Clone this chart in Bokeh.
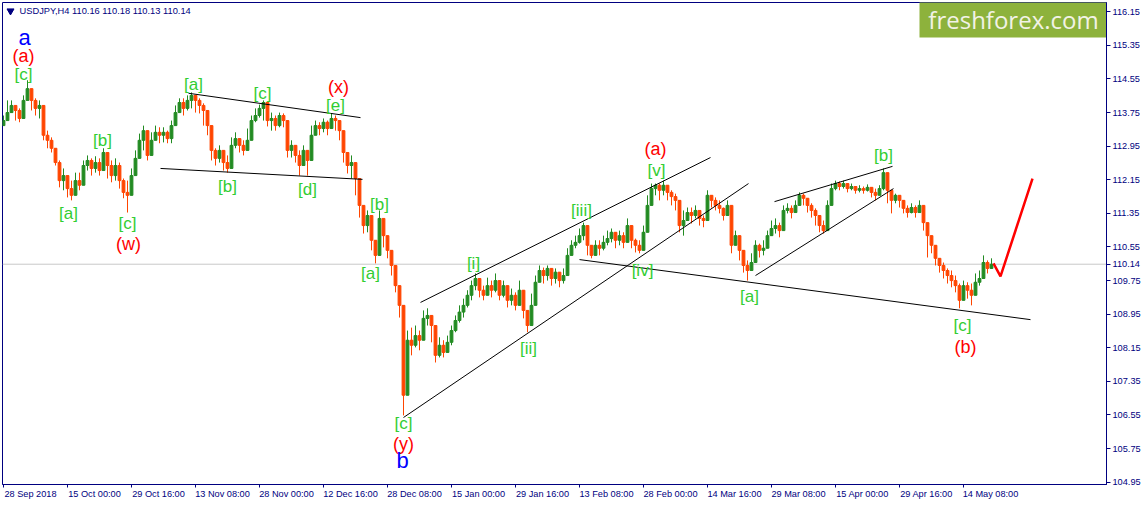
from bokeh.plotting import figure
from bokeh.models import Range1d, FixedTicker, PrintfTickFormatter, Span, ColumnDataSource, LinearAxis
from bokeh.embed import file_html
from bokeh.resources import INLINE
from bokeh.core.properties import value

# ---------------- data ----------------
symbol = "USDJPY,H4"
last_ohlc = [110.16, 110.18, 110.13, 110.14]
current_price = 110.14
first_open = 113.44

closes = [
    113.56, 113.75, 113.92, 113.80, 113.61, 114.04, 114.32, 114.04, 113.85, 113.92, 113.21, 113.09, 112.90, 112.56, 112.13, 112.25,
    111.94, 111.78, 112.13, 112.02, 112.49, 112.61, 112.42, 112.56, 112.37, 112.80, 112.49, 112.25, 112.49, 112.13, 111.85, 111.78,
    112.25, 112.66, 113.09, 113.32, 112.73, 113.09, 113.28, 113.21, 113.28, 113.13, 113.44, 113.75, 113.99, 113.85, 114.04, 114.16,
    114.04, 113.92, 113.80, 113.44, 112.85, 112.66, 112.85, 112.56, 112.42, 112.97, 113.13, 112.97, 112.85, 113.09, 113.56, 113.68,
    113.85, 113.99, 113.56, 113.61, 113.44, 113.68, 113.56, 112.85, 112.97, 112.73, 112.49, 112.85, 112.61, 113.21, 113.44, 113.37,
    113.52, 113.37, 113.61, 113.56, 113.32, 112.80, 112.49, 112.56, 112.18, 111.54, 111.06, 111.30, 110.71, 110.35, 111.23, 110.82,
    110.47, 110.11, 109.63, 109.16, 107.02, 108.33, 108.21, 108.44, 108.33, 108.85, 108.92, 108.68, 107.97, 108.21, 108.04, 108.28,
    108.56, 108.80, 109.00, 109.16, 109.40, 109.63, 109.80, 109.52, 109.40, 109.63, 109.52, 109.75, 109.40, 109.63, 109.28, 109.40,
    109.16, 109.52, 109.04, 108.68, 109.16, 109.71, 109.99, 109.87, 110.04, 109.80, 109.95, 109.75, 109.87, 110.35, 110.59, 110.66,
    110.82, 111.06, 110.59, 110.35, 110.59, 110.52, 110.66, 110.75, 110.90, 110.71, 110.82, 110.66, 111.06, 110.71, 110.59, 110.47,
    110.90, 111.54, 111.94, 112.02, 111.90, 112.02, 111.85, 111.75, 111.66, 111.06, 111.18, 111.37, 111.30, 111.42, 111.23, 111.18,
    111.78, 111.66, 111.54, 111.47, 111.30, 111.54, 110.59, 110.82, 110.47, 110.11, 109.99, 110.18, 110.59, 110.47, 110.52, 110.82,
    110.99, 111.06, 110.94, 111.42, 111.47, 111.37, 111.54, 111.78, 111.71, 111.54, 111.42, 111.30, 111.06, 110.94, 111.54, 111.94,
    112.06, 111.99, 112.06, 111.94, 111.99, 111.90, 111.94, 111.90, 111.97, 111.85, 111.78, 111.94, 112.32, 111.90, 111.66, 111.78,
    111.66, 111.47, 111.37, 111.49, 111.37, 111.54, 111.13, 110.82, 110.59, 110.28, 110.11, 109.99, 109.87, 109.75, 109.63, 109.28,
    109.63, 109.52, 109.40, 109.71, 109.80, 110.18, 110.04, 110.14,
]

highs_read = [
    113.68, 114.04, 114.04, 113.92, 113.85, 114.16, 114.52, 114.21, 114.09, 114.04, 113.61, 113.32, 113.16, 112.90, 112.61, 112.42,
    112.25, 112.13, 112.32, 112.32, 112.61, 112.73, 112.66, 112.71, 112.66, 112.90, 112.73, 112.61, 112.66, 112.56, 112.18, 112.13,
    112.42, 112.85, 113.25, 113.44, 113.13, 113.28, 113.44, 113.40, 113.40, 113.32, 113.56, 113.92, 114.09, 114.09, 114.16, 114.23,
    114.16, 114.09, 113.97, 113.73, 113.09, 112.90, 112.97, 112.85, 112.73, 113.16, 113.28, 113.13, 113.09, 113.37, 113.68, 113.85,
    113.94, 114.04, 113.73, 113.75, 113.68, 113.75, 113.73, 113.13, 113.09, 112.97, 112.85, 112.97, 112.85, 113.44, 113.56, 113.52,
    113.61, 113.56, 113.73, 113.68, 113.56, 112.97, 112.73, 112.73, 112.37, 111.78, 111.42, 111.42, 110.94, 110.71, 111.42, 111.18,
    110.71, 110.40, 109.99, 109.44, 109.16, 108.56, 108.63, 108.68, 108.56, 109.04, 109.09, 108.92, 108.40, 108.40, 108.33, 108.44,
    108.68, 108.92, 109.16, 109.32, 109.52, 109.75, 109.92, 109.75, 109.63, 109.82, 109.75, 109.92, 109.71, 109.75, 109.52, 109.56,
    109.47, 109.75, 109.40, 109.04, 109.44, 109.87, 110.11, 110.06, 110.11, 109.99, 110.04, 109.92, 110.04, 110.52, 110.71, 110.82,
    110.99, 111.13, 110.82, 110.59, 110.71, 110.71, 110.82, 110.94, 110.99, 110.90, 110.94, 110.90, 111.23, 110.90, 110.75, 110.71,
    111.06, 111.78, 112.06, 112.06, 112.06, 112.13, 112.02, 111.90, 111.82, 111.42, 111.42, 111.49, 111.49, 111.54, 111.42, 111.30,
    111.90, 111.78, 111.73, 111.66, 111.49, 111.66, 110.94, 110.94, 110.71, 110.35, 110.23, 110.40, 110.71, 110.63, 110.71, 110.94,
    111.18, 111.23, 111.13, 111.54, 111.59, 111.54, 111.66, 111.85, 111.82, 111.71, 111.59, 111.47, 111.25, 111.18, 111.66, 112.06,
    112.13, 112.11, 112.13, 112.06, 112.06, 111.99, 112.02, 111.99, 112.04, 111.94, 111.94, 112.02, 112.42, 112.06, 111.78, 111.82,
    111.78, 111.59, 111.54, 111.59, 111.54, 111.66, 111.37, 111.06, 110.75, 110.47, 110.28, 110.18, 110.04, 109.99, 109.87, 109.68,
    109.75, 109.71, 109.68, 109.92, 109.99, 110.35, 110.23, 110.28,
]

lows_read = [
    113.44, 113.61, 113.75, 113.56, 113.52, 113.75, 114.04, 113.80, 113.68, 113.61, 113.09, 112.90, 112.80, 112.49, 111.97, 111.90,
    111.73, 111.66, 111.85, 111.90, 112.18, 112.37, 112.25, 112.32, 112.25, 112.42, 112.18, 112.09, 112.13, 111.94, 111.71, 111.37,
    111.85, 112.32, 112.66, 112.85, 112.61, 112.85, 113.09, 113.02, 113.04, 113.02, 113.02, 113.52, 113.75, 113.68, 113.80, 113.85,
    113.75, 113.73, 113.44, 113.21, 112.61, 112.49, 112.56, 112.37, 112.32, 112.66, 112.90, 112.80, 112.73, 112.85, 113.28, 113.52,
    113.63, 113.56, 113.42, 113.32, 113.32, 113.40, 113.40, 112.68, 112.68, 112.56, 112.25, 112.56, 112.25, 112.97, 113.25, 113.21,
    113.28, 113.21, 113.40, 113.32, 113.09, 112.56, 112.30, 112.18, 111.78, 111.25, 110.87, 110.90, 110.47, 110.16, 110.82, 110.54,
    110.28, 109.87, 109.47, 108.87, 106.54, 107.09, 107.97, 108.16, 108.09, 108.52, 108.68, 108.28, 107.80, 107.92, 107.92, 108.04,
    108.21, 108.52, 108.75, 108.87, 109.11, 109.28, 109.52, 109.35, 109.28, 109.44, 109.35, 109.47, 109.28, 109.35, 109.11, 109.16,
    109.04, 109.21, 108.85, 108.52, 108.92, 109.47, 109.75, 109.68, 109.75, 109.63, 109.68, 109.59, 109.68, 110.11, 110.35, 110.52,
    110.63, 110.71, 110.35, 110.28, 110.42, 110.35, 110.47, 110.59, 110.66, 110.52, 110.59, 110.52, 110.82, 110.52, 110.42, 110.40,
    110.66, 111.30, 111.66, 111.78, 111.66, 111.78, 111.66, 111.54, 111.42, 110.90, 110.82, 111.18, 111.11, 111.23, 111.06, 111.02,
    111.54, 111.49, 111.42, 111.35, 111.18, 111.30, 110.40, 110.63, 110.23, 109.94, 109.75, 109.99, 110.40, 110.30, 110.35, 110.54,
    110.82, 110.87, 110.78, 111.30, 111.35, 111.23, 111.37, 111.59, 111.54, 111.37, 111.25, 111.06, 110.90, 110.87, 111.30, 111.73,
    111.90, 111.90, 111.94, 111.85, 111.90, 111.82, 111.85, 111.82, 111.87, 111.73, 111.66, 111.78, 111.90, 111.59, 111.35, 111.59,
    111.49, 111.35, 111.25, 111.35, 111.25, 111.37, 110.94, 110.30, 110.40, 110.11, 109.94, 109.80, 109.68, 109.59, 109.47, 109.09,
    109.40, 109.32, 109.16, 109.52, 109.63, 109.94, 109.92, 110.04,
]

date_labels = ["28 Sep 2018", "15 Oct 00:00", "29 Oct 16:00", "13 Nov 08:00", "28 Nov 00:00", "12 Dec 16:00",
               "28 Dec 08:00", "15 Jan 00:00", "29 Jan 16:00", "13 Feb 08:00", "28 Feb 00:00", "14 Mar 16:00",
               "29 Mar 08:00", "15 Apr 00:00", "29 Apr 16:00", "14 May 08:00"]
date_bars = [0, 16, 32, 48, 64, 80, 96, 112, 128, 144, 160, 176, 192, 208, 224, 240]
price_ticks = [104.95, 105.75, 106.55, 107.35, 108.15, 108.95, 109.75, 110.55, 111.35, 112.15,
               112.95, 113.75, 114.55, 115.35, 116.15]

# Elliott wave labels
green_text = ["[c]", "[a]", "[c]", "[e]", "[b]", "[a]", "[c]", "[b]", "[d]", "[b]", "[a]", "[c]",
              "[i]", "[ii]", "[iii]", "[iv]", "[v]", "[a]", "[b]", "[c]"]
green_bar = [5, 47.5, 64.75, 83, 24.75, 16.25, 31, 56, 76, 94, 91.75, 100,
             117.5, 131.25, 144.5, 159.75, 163.25, 186.5, 220, 239.75]
green_price = [114.66, 114.43, 114.20, 113.92, 113.09, 111.35, 111.11, 111.98, 111.93, 111.57, 109.91, 106.35,
               110.15, 108.13, 111.42, 109.99, 112.37, 109.36, 112.73, 108.68]
red_text = ["(a)", "(x)", "(w)", "(y)", "(a)", "(b)"]
red_bar = [5, 83.75, 31.25, 100, 163, 240.5]
red_price = [115.09, 114.36, 110.61, 105.87, 112.88, 108.18]
blue_text = ["a", "b"]
blue_bar = [5.25, 99.75]
blue_price = [115.54, 105.47]

# trend lines (bar, price) -> (bar, price)
line_bar0 = [46.25, 39.25, 104.25, 100, 144, 192.75, 188]
line_price0 = [114.21, 112.42, 109.23, 106.49, 110.25, 111.63, 109.87]
line_bar1 = [89.25, 89.75, 176.75, 186.25, 256.75, 222.25, 222.5]
line_price1 = [113.63, 112.16, 112.68, 112.06, 108.82, 112.47, 111.94]
forecast_bar = [247.5, 249.25, 257.25]
forecast_price = [110.16, 109.85, 112.18]

# ---------------- build ----------------
NAVY = "#000080"
UP = "#228B22"
DOWN = "#FF4500"
GREEN_LBL = "#32CD32"
AXIS_FONT = "Liberation Sans"
AXIS_SIZE = "9.2px"

n = len(closes)
bars = list(range(n))
opens = [first_open] + closes[:-1]
tops = [max(o, c) for o, c in zip(opens, closes)]
bottoms = [min(o, c) for o, c in zip(opens, closes)]
highs = [max(h, t) for h, t in zip(highs_read, tops)]
lows = [min(l, b) for l, b in zip(lows_read, bottoms)]
colors = [UP if c >= o else DOWN for o, c in zip(opens, closes)]
src = ColumnDataSource(dict(x=bars, top=tops, bottom=bottoms, high=highs, low=lows, color=colors))

p = figure(width=1145, height=503, x_range=Range1d(-0.25, 275.75), y_range=Range1d(104.895, 116.371),
           output_backend="svg", toolbar_location=None, y_axis_location="right",
           min_border_left=0, min_border_top=0, min_border_right=41, min_border_bottom=21,
           background_fill_color="white", border_fill_color="white",
           outline_line_color=NAVY, outline_line_width=1)
p.margin = (2, 0, 0, 2)
p.xgrid.visible = False
p.ygrid.visible = False

p.add_layout(Span(location=current_price, dimension="width", line_color="#c8c8c8",
                  line_width=1, level="underlay"))

p.segment(x0="x", y0="high", x1="x", y1="low", line_color="color", line_width=1, source=src)
p.vbar(x="x", width=0.7, top="top", bottom="bottom", fill_color="color", line_color="color", source=src)

p.segment(x0=line_bar0, y0=line_price0, x1=line_bar1, y1=line_price1, line_color="black", line_width=1)
p.line(forecast_bar, forecast_price, line_color="#ff0000", line_width=2.5)

p.text(x=green_bar, y=green_price, text=green_text, text_color=GREEN_LBL, text_font=value("Liberation Sans"),
       text_font_size="17px", text_align="center", text_baseline="middle")
p.text(x=red_bar, y=red_price, text=red_text, text_color="#ff0000", text_font=value("Liberation Sans"),
       text_font_size="18px", text_align="center", text_baseline="middle")
p.text(x=blue_bar, y=blue_price, text=blue_text, text_color="#0000ff", text_font=value("Liberation Sans"),
       text_font_size="22px", text_align="center", text_baseline="middle")

# header
p.scatter(x=[1.75], y=[116.17], marker="inverted_triangle", size=7, color=NAVY)
title = symbol + "  " + " ".join(f"{v:.2f}" for v in last_ohlc)
p.text(x=[4], y=[116.157], text=[title], text_color=NAVY, text_font=value("Liberation Sans"),
       text_font_size="9.3px", text_align="left", text_baseline="middle")

# watermark
p.quad(left=[229], right=[276], top=[116.5], bottom=[115.54], fill_color="#8db23c", line_color=None)
p.text(x=[252.5], y=[115.96], text=["freshforex.com"], text_color="#f2f2e6", text_font=value("Open Sans"),
       text_font_size="24px", text_align="center", text_baseline="middle")

# right price axis (includes the current price)
ya = p.yaxis[0]
ya.ticker = FixedTicker(ticks=price_ticks + [current_price])
ya.formatter = PrintfTickFormatter(format="%.2f")
ya.axis_line_color = NAVY
ya.major_tick_line_color = NAVY
ya.minor_tick_line_color = None
ya.major_tick_out = 4
ya.major_tick_in = 0
ya.major_label_standoff = 2
ya.major_label_text_color = NAVY
ya.major_label_text_font = AXIS_FONT
ya.major_label_text_font_size = AXIS_SIZE

# bottom time axis: tick marks at the bars ...
xa = p.xaxis[0]
xa.ticker = FixedTicker(ticks=date_bars)
xa.major_label_overrides = {b: "" for b in date_bars}
xa.major_label_text_font_size = "1px"
xa.major_label_standoff = 0
xa.axis_line_color = NAVY
xa.major_tick_line_color = NAVY
xa.minor_tick_line_color = None
xa.major_tick_out = 3
xa.major_tick_in = 0

# ... and the date texts starting just right of each tick
label_shift = 6.75
label_pos = [b + label_shift for b in date_bars]
xb = LinearAxis(ticker=FixedTicker(ticks=label_pos),
                major_label_overrides=dict(zip(label_pos, date_labels)))
xb.axis_line_color = None
xb.major_tick_line_color = None
xb.minor_tick_line_color = None
xb.major_tick_out = 0
xb.major_tick_in = 0
xb.major_label_standoff = 1
xb.major_label_text_color = NAVY
xb.major_label_text_font = AXIS_FONT
xb.major_label_text_font_size = AXIS_SIZE
p.add_layout(xb, "below")

open("out.html", "w").write(file_html(p, INLINE))
